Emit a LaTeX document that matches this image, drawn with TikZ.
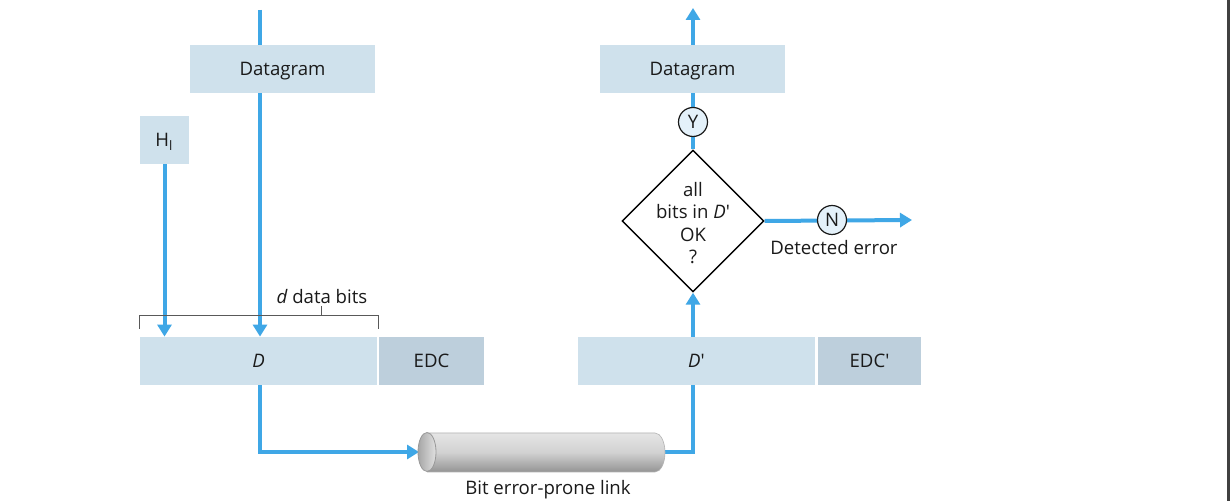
\documentclass[tikz,border=0pt]{standalone}
\usepackage{fontspec}
\setmainfont{Open Sans}[Ligatures=TeXOff]
\usetikzlibrary{arrows.meta,shapes.geometric}
\pgfdeclarelayer{bg}
\pgfsetlayers{bg,main}
\definecolor{boxc}{HTML}{CFE1EC}
\definecolor{edcc}{HTML}{BDCFDC}
\definecolor{arrc}{HTML}{3FA7E6}
\definecolor{circc}{HTML}{E4F1FA}
\definecolor{txtc}{HTML}{1A1A1A}
\tikzset{
  every node/.style={font=\fontsize{9.3}{11}\selectfont, text=txtc, inner sep=0pt},
  capc/.style={text height=6.6pt, text depth=0pt},
  databox/.style={capc, fill=boxc, minimum height=24pt},
  edcbox/.style={capc, fill=edcc, minimum height=24pt},
  flow/.style={draw=arrc, line width=2pt},
  flowarr/.style={flow, -{Triangle[length=6pt,width=7pt]}},
  yn/.style={capc, circle, draw=txtc, line width=0.6pt, fill=circc, minimum size=14.5pt},
  decision/.style={diamond, draw=black, line width=0.7pt, fill=white, minimum width=71pt, minimum height=71pt, aspect=1},
  bracketline/.style={draw=black!65, line width=0.5pt}
}
\begin{document}
\begin{tikzpicture}[x=0.5pt,y=-0.5pt]
\useasboundingbox (0,0) rectangle (1230,501);
% boxes
\node[databox, minimum width=92.5pt] (dg1) at (282.5,69) {Datagram};
\node[databox, minimum width=24.5pt] (hl) at (164.5,140) {H\textsubscript{l}};
\node[databox, minimum width=118.5pt] (d) at (258.5,361) {\itshape D};
\node[edcbox, minimum width=52.5pt] (edc) at (431.5,361) {EDC};
\node[databox, minimum width=118.5pt] (dp) at (696.5,361) {\itshape D\upshape'};
\node[edcbox, minimum width=51.5pt] (edcp) at (869.5,361) {EDC'};
\node[databox, minimum width=92.5pt] (dg2) at (692.5,69) {Datagram};
\node[decision] (dia) at (693,221) {};
\node[align=center, font=\fontsize{9.3}{11.3}\selectfont] (diatext) at (693,223) {all\\bits in \itshape D\upshape'\\OK\\?};
\node[yn] (y) at (693,122) {Y};
\node[yn] (n) at (832,220) {N};
\node[capc] (det) at (834,248) {Detected error};
\node[capc] (link) at (548,488) {Bit error-prone link};
\node[capc] (dbits) at (322,297) {\itshape d\upshape{} data bits};
% coordinates
\coordinate (top1) at (260,10);
\coordinate (top2) at (693,8);
\coordinate (nend) at (912,220);
\coordinate (cylL) at (419,452);
\coordinate (cylR) at (665,452);
% bracket
\draw[bracketline] (139,329) -- (139,316) -- (378,316) -- (378,329);
\draw[bracketline] (321,316) -- (321,306);
% cylinder
\path[top color=black!10, bottom color=black!42, middle color=black!18]
  (427,433) -- (655,433) arc[start angle=90, end angle=-90, x radius=5pt, y radius=9.75pt] -- (427,472) -- cycle;
\draw[black!30, line width=0.3pt] (427,433) -- (655,433) arc[start angle=90, end angle=-90, x radius=5pt, y radius=9.75pt] -- (427,472);
\shade[left color=black!35, right color=black!12, draw=black!40, line width=0.4pt] (427,452) ellipse [x radius=4.5pt, y radius=9.75pt];
% connectors
\begin{pgfonlayer}{bg}
\fill[white] (0,0) rectangle (1230,501);
\fill[black!75] (1227,0) rectangle (1230,501);
\draw[flowarr] (top1) -- (top1 |- d.north);
\draw[flowarr] (hl.south) -- (hl.south |- d.north);
\draw[flowarr] (d.south -| top1) |- (cylL);
\draw[flow] (cylR) -| (dp.south -| top2);
\draw[flowarr] (dp.north -| top2) -- (dia.south);
\draw[flowarr] (dia.north) -- (top2);
\draw[flowarr] (dia.east) -- (nend);
\end{pgfonlayer}
\end{tikzpicture}
\end{document}
